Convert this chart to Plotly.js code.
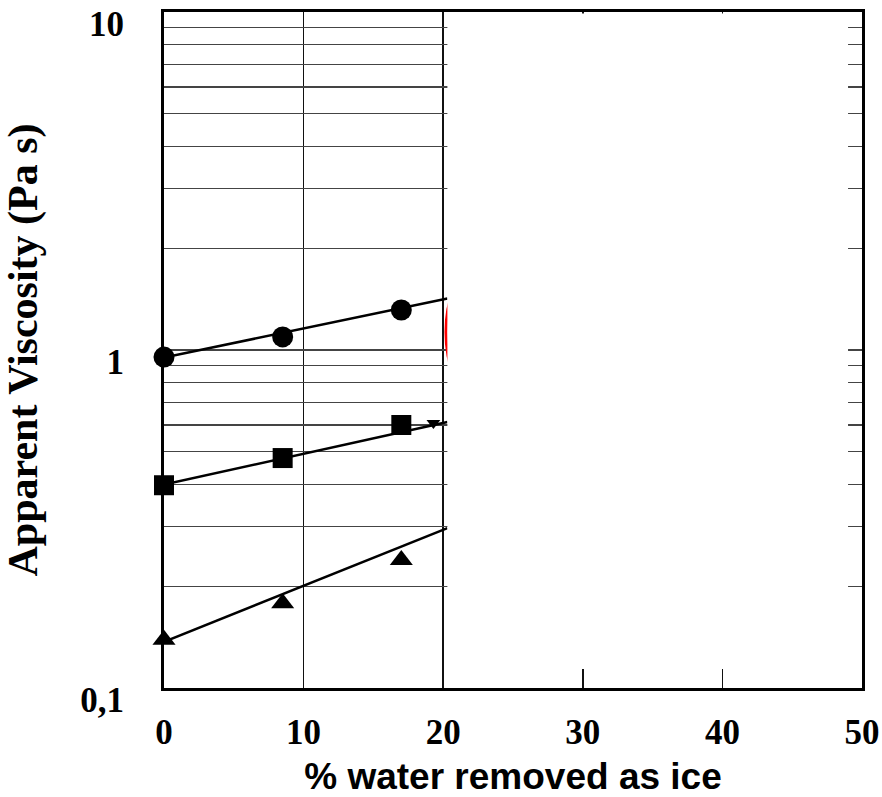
<!DOCTYPE html>
<html>
<head>
<meta charset="utf-8">
<script src="https://cdn.plot.ly/plotly-3.0.1.min.js"></script>
<style>html,body{margin:0;padding:0;background:#fff;}#chart{width:882px;height:797px;}</style>
</head>
<body>
<div id="chart"></div>
<script>
// Data
const waterRemoved = [0, 8.5, 17];           // % water removed as ice
const circleVisc   = [0.953, 1.093, 1.313];  // Pa s
const squareVisc   = [0.398, 0.479, 0.600];
const triangleVisc = [0.139, 0.178, 0.239];

// fitted lines (visible part, up to the masked region)
const fitX         = [0, 20.3];
const circleFit    = [0.95, 1.42];
const squareFit    = [0.40, 0.612];
const triangleFit  = [0.137, 0.297];

// partly visible extra marker next to the masked region
const extraX = [19.3];
const extraY = [0.608];

// axis ticks
const xTicks = [0, 10, 20, 30, 40, 50];
const yTickVals = [0.1,0.2,0.3,0.4,0.5,0.6,0.7,0.8,0.9,1,2,3,4,5,6,7,8,9,10];
const yTickText = yTickVals.map(v => v === 0.1 ? '0,1' : (v === 1 ? '1' : (v === 10 ? '10' : '')));

// masked region (white box) and red ellipse edge
const maskX = [20.3, 49.0];
const maskY = [0.1138, 9.9];
const ellipseX = [20.2, 24];
const ellipseY = [0.75, 1.7];

const lineStyle = {color: '#000', width: 2.5};
const traces = [
  {x: fitX, y: circleFit, mode: 'lines', line: lineStyle, hoverinfo: 'skip'},
  {x: fitX, y: squareFit, mode: 'lines', line: lineStyle, hoverinfo: 'skip'},
  {x: fitX, y: triangleFit, mode: 'lines', line: lineStyle, hoverinfo: 'skip'},
  {x: waterRemoved, y: circleVisc, mode: 'markers', name: 'circles',
   marker: {symbol: 'circle', size: 21, color: '#000'}, cliponaxis: false},
  {x: waterRemoved, y: squareVisc, mode: 'markers', name: 'squares',
   marker: {symbol: 'square', size: 20, color: '#000'}, cliponaxis: false},
  {x: waterRemoved, y: triangleVisc, mode: 'markers', name: 'triangles',
   marker: {symbol: 'triangle-up', size: 20, color: '#000'}, cliponaxis: false},
  {x: extraX, y: extraY, mode: 'markers', name: 'extra',
   marker: {symbol: 'triangle-down', size: 12, color: '#000'}}
];

const tickFont = {family: 'Liberation Serif, Times New Roman, serif', size: 35, color: '#000', weight: 'bold'};

const layout = {
  width: 882, height: 797,
  margin: {l: 164, r: 20, t: 12, b: 109},
  paper_bgcolor: '#fff', plot_bgcolor: '#fff',
  showlegend: false,
  xaxis: {
    range: [0, 50],
    tickvals: xTicks, ticktext: xTicks.map(String),
    tickfont: tickFont,
    ticks: '', ticklabelstandoff: 11,
    showgrid: true, gridcolor: '#111', gridwidth: 1.5,
    zeroline: false,
    showline: true, mirror: true, linecolor: '#000', linewidth: 3,
    title: {text: '% water removed as ice',
            font: {family: 'Liberation Sans, Arial, sans-serif', size: 37, color: '#000', weight: 'bold'},
            standoff: 15}
  },
  yaxis: {
    type: 'log', range: [-1, 1],
    tickvals: yTickVals, ticktext: yTickText,
    tickfont: tickFont,
    ticks: '', ticklabelstandoff: 30, ticklabelshift: 12,
    showgrid: true, gridcolor: '#444', gridwidth: 1.3,
    zeroline: false,
    showline: true, mirror: true, linecolor: '#000', linewidth: 3,
    title: {text: 'Apparent Viscosity (Pa s)',
            font: {family: 'Liberation Serif, Times New Roman, serif', size: 42, color: '#000', weight: 'bold'},
            standoff: 36}
  },
  shapes: [
    {type: 'circle', xref: 'x', yref: 'y', x0: ellipseX[0], x1: ellipseX[1], y0: ellipseY[0], y1: ellipseY[1],
     line: {color: '#ff0000', width: 3}, layer: 'above'},
    {type: 'rect', xref: 'x', yref: 'y', x0: maskX[0], x1: maskX[1], y0: maskY[0], y1: maskY[1],
     fillcolor: '#fff', line: {width: 0}, layer: 'above'}
  ]
};

Plotly.newPlot('chart', traces, layout, {displayModeBar: false, staticPlot: true});
</script>
</body>
</html>
